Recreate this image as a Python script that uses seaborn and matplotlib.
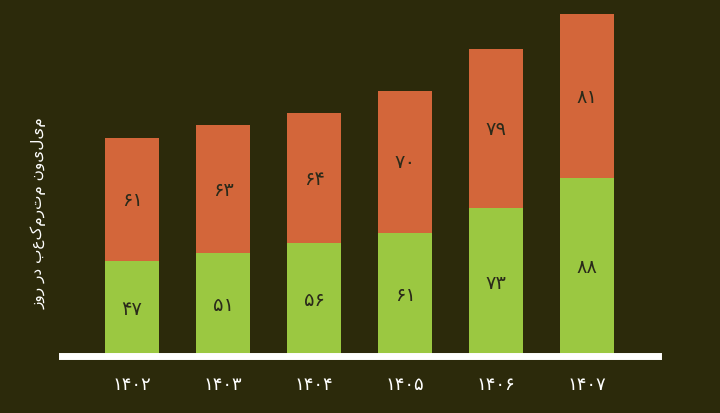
import pandas as pd
import matplotlib
matplotlib.use("Agg")
import matplotlib.pyplot as plt
import seaborn as sns

years = ["۱۴۰۲", "۱۴۰۳", "۱۴۰۴", "۱۴۰۵", "۱۴۰۶", "۱۴۰۷"]
green_vals = [47, 51, 56, 61, 73, 88]
orange_vals = [61, 63, 64, 70, 79, 81]
green_lbl = ["۴۷", "۵۱", "۵۶", "۶۱", "۷۳", "۸۸"]
orange_lbl = ["۶۱", "۶۳", "۶۴", "۷۰", "۷۹", "۸۱"]
ylabel = "میلیون مترمکعب در روز"

bg = "#2c2a0b"
green = "#9bc841"
orange = "#d3663a"

sns.set_theme(style="white")
plt.rcParams["font.family"] = ["DejaVu Sans"]

df = pd.DataFrame({"year": years, "green": green_vals, "orange": orange_vals})
df["total"] = df["green"] + df["orange"]

fig = plt.figure(figsize=(7.2, 4.14), dpi=100, facecolor=bg)
ax = fig.add_axes([0.086, 0.138, 0.828, 0.825])
ax.set_facecolor(bg)

sns.barplot(data=df, x="year", y="total", color=orange, width=0.6, saturation=1,
            edgecolor="none", linewidth=0, ax=ax)
sns.barplot(data=df, x="year", y="green", color=green, width=0.6, saturation=1,
            edgecolor="none", linewidth=0, ax=ax)

for i, row in df.iterrows():
    ax.text(i, row["green"] / 2, green_lbl[i], ha="center", va="center",
            fontsize=14, color="#2a2a1a")
    ax.text(i, row["green"] + row["orange"] / 2, orange_lbl[i], ha="center",
            va="center", fontsize=14, color="#2a2a1a")

ax.set_xlim(-0.77, 5.78)
ax.set_ylim(0, 169)
ax.set_xlabel("")
# matplotlib draws left to right, so reverse for visual order
ax.set_ylabel(ylabel[::-1], color="white", fontsize=11, labelpad=4)
ax.yaxis.set_label_coords(-0.025, 0.42)
ax.set_yticks([])
ax.tick_params(axis="x", colors="white", labelsize=13, length=0, pad=14)
for s in ["top", "right", "left"]:
    ax.spines[s].set_visible(False)
ax.spines["bottom"].set_color("white")
ax.spines["bottom"].set_linewidth(5)

fig.savefig("out.png", dpi=100, facecolor=bg)
